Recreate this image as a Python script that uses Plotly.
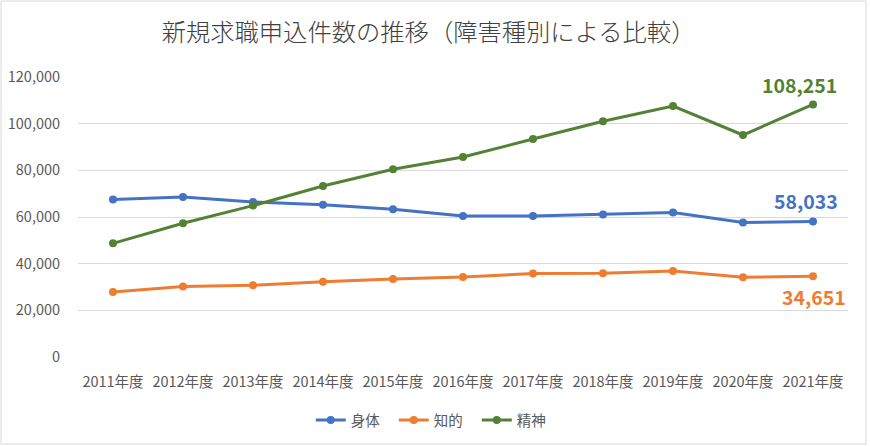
import plotly.graph_objects as go

years = ["2011年度", "2012年度", "2013年度", "2014年度", "2015年度", "2016年度",
         "2017年度", "2018年度", "2019年度", "2020年度", "2021年度"]
shintai = [67450, 68570, 66430, 65300, 63290, 60430, 60430, 61030, 61880, 57600, 58033]
chiteki = [27860, 30170, 30730, 32300, 33430, 34290, 35740, 35870, 36860, 34150, 34651]
seishin = [48720, 57290, 64880, 73280, 80440, 85710, 93420, 101010, 107560, 95140, 108251]
series_names = ["身体", "知的", "精神"]
colors = ["#4472C4", "#ED7D31", "#548235"]
y_ticks = [0, 20000, 40000, 60000, 80000, 100000, 120000]

FONT = "Noto Sans CJK JP, Noto Sans, sans-serif"
W, H = 871, 446
ML, MR, MT, MB = 78, 23, 77, 89

fig = go.Figure()
for name, vals, c in zip(series_names, [shintai, chiteki, seishin], colors):
    fig.add_trace(go.Scatter(
        x=years, y=vals, name=name, mode="lines+markers",
        line=dict(color=c, width=3),
        marker=dict(color=c, size=8),
    ))

labels = [
    (seishin[-1], colors[2], -14, 20),
    (shintai[-1], colors[0], -7, 21),
    (chiteki[-1], colors[1], 1, -20),
]
for v, c, xs, ys in labels:
    fig.add_annotation(x=years[-1], y=v, text=f"<b>{v:,}</b>", showarrow=False,
                       xshift=xs, yshift=ys,
                       font=dict(family=FONT, size=19.5, color=c))

pw = W - ML - MR
ph = H - MT - MB
fig.add_shape(type="rect", xref="paper", yref="paper",
              x0=(1 - ML) / pw, x1=(W - 5 - ML) / pw,
              y0=-(H - 2 - MT - ph) / ph, y1=1 + (MT - 1) / ph,
              line=dict(color="#D9D9D9", width=1), layer="below")

fig.update_layout(
    width=W, height=H,
    margin=dict(l=ML, r=MR, t=MT, b=MB, autoexpand=False),
    paper_bgcolor="white", plot_bgcolor="white",
    font=dict(family=FONT, color="#595959", size=14),
    title=dict(text="新規求職申込件数の推移（障害種別による比較）",
               x=0.492, xanchor="center", y=0.928, yanchor="middle",
               font=dict(family=FONT, size=24.3, color="#404040", weight=300)),
    showlegend=True,
    legend=dict(orientation="h", x=0.464, xanchor="center", y=-0.168, yanchor="top",
                font=dict(size=14.5, color="#595959"),
                entrywidth=38, entrywidthmode="pixels"),
    xaxis=dict(type="category", range=[-0.5, len(years) - 0.5],
               showgrid=False, showline=False,
               ticks="outside", ticklen=12, tickcolor="rgba(0,0,0,0)",
               automargin=False, tickfont=dict(size=14.5, color="#595959")),
    yaxis=dict(range=[0, 120000], tickvals=y_ticks, tickformat=",",
               gridcolor="#D9D9D9", gridwidth=1, zeroline=False, showline=False,
               automargin=False,
               ticks="outside", ticklen=14, tickcolor="rgba(0,0,0,0)",
               tickfont=dict(size=14.5, color="#595959")),
)

fig.write_html("out.html", config={"displayModeBar": False},
               post_script="document.body.style.margin='0';")
